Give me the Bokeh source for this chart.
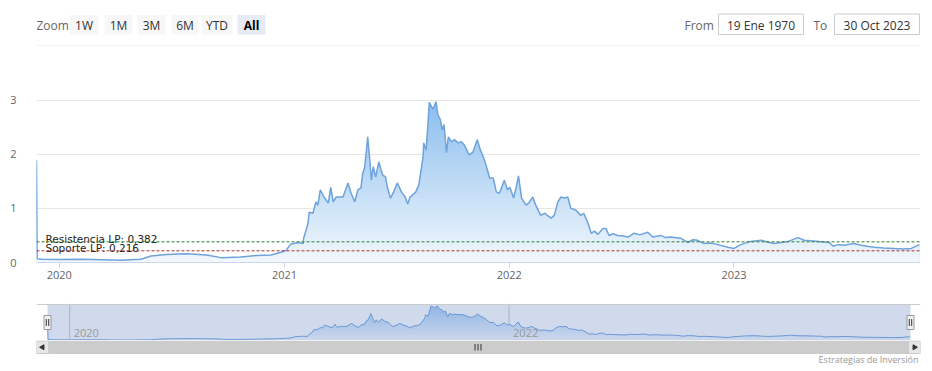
import numpy as np
import pandas as pd
from bokeh.plotting import figure
from bokeh.layouts import column
from bokeh.models import Range1d, FixedTicker, DatetimeTickFormatter, Span, BoxAnnotation
from bokeh.core.properties import value
from bokeh.embed import file_html
from bokeh.resources import INLINE

# ---------------- data ----------------
dates = [
    "2019-11-25", "2019-11-26", "2019-12-03", "2020-01-04", "2020-02-06", "2020-03-09",
    "2020-04-11", "2020-05-13", "2020-05-29", "2020-06-23", "2020-07-25", "2020-08-27",
    "2020-09-20", "2020-10-22", "2020-11-16", "2020-12-10", "2020-12-26", "2021-01-03",
    "2021-01-11", "2021-01-16", "2021-01-24", "2021-01-31", "2021-02-01", "2021-02-08",
    "2021-02-10", "2021-02-16", "2021-02-21", "2021-02-24", "2021-02-28", "2021-03-06",
    "2021-03-13", "2021-03-17", "2021-03-21", "2021-03-26", "2021-04-06", "2021-04-14",
    "2021-04-19", "2021-04-25", "2021-04-30", "2021-05-05", "2021-05-08", "2021-05-11",
    "2021-05-14", "2021-05-16", "2021-05-19", "2021-05-22", "2021-05-25", "2021-05-29",
    "2021-06-03", "2021-06-09", "2021-06-14", "2021-06-17", "2021-06-22", "2021-06-27",
    "2021-07-03", "2021-07-10", "2021-07-16", "2021-07-20", "2021-07-24", "2021-08-02",
    "2021-08-07", "2021-08-14", "2021-08-15", "2021-08-19", "2021-08-22", "2021-08-24",
    "2021-08-30", "2021-09-04", "2021-09-07", "2021-09-11", "2021-09-14", "2021-09-17",
    "2021-09-21", "2021-09-24", "2021-09-29", "2021-10-04", "2021-10-10", "2021-10-15",
    "2021-10-20", "2021-10-28", "2021-11-03", "2021-11-10", "2021-11-15", "2021-11-20",
    "2021-11-25", "2021-11-30", "2021-12-06", "2021-12-11", "2021-12-16", "2021-12-24",
    "2021-12-29", "2022-01-02", "2022-01-08", "2022-01-13", "2022-01-16", "2022-01-21",
    "2022-01-28", "2022-02-02", "2022-02-08", "2022-02-13", "2022-02-21", "2022-02-28",
    "2022-03-05", "2022-03-10", "2022-03-15", "2022-03-21", "2022-03-26", "2022-04-01",
    "2022-04-06", "2022-04-11", "2022-04-19", "2022-04-27", "2022-05-02", "2022-05-09",
    "2022-05-14", "2022-05-19", "2022-05-25", "2022-06-02", "2022-06-07", "2022-06-12",
    "2022-06-19", "2022-06-26", "2022-07-05", "2022-07-13", "2022-07-22", "2022-08-01",
    "2022-08-14", "2022-08-22", "2022-09-04", "2022-09-12", "2022-09-20", "2022-10-06",
    "2022-10-18", "2022-10-26", "2022-11-03", "2022-11-13", "2022-11-25", "2022-12-06",
    "2022-12-22", "2023-01-01", "2023-01-12", "2023-01-28", "2023-02-14", "2023-02-24",
    "2023-03-07", "2023-03-18", "2023-03-30", "2023-04-15", "2023-04-25", "2023-05-06",
    "2023-05-18", "2023-06-05", "2023-06-11", "2023-06-20", "2023-06-29", "2023-07-14",
    "2023-07-27", "2023-08-05", "2023-08-17", "2023-09-01", "2023-09-18", "2023-10-03",
    "2023-10-16", "2023-10-29",
]
prices = [
    1.90, 0.07, 0.06, 0.055, 0.06, 0.05,
    0.04, 0.06, 0.12, 0.15, 0.16, 0.14,
    0.09, 0.10, 0.13, 0.14, 0.19, 0.22,
    0.34, 0.35, 0.37, 0.35, 0.45, 0.72,
    0.93, 0.91, 1.12, 1.06, 1.34, 1.21,
    1.10, 1.39, 1.12, 1.21, 1.21, 1.47,
    1.28, 1.12, 1.34, 1.38, 1.65, 1.75,
    2.08, 2.32, 1.95, 1.52, 1.77, 1.58,
    1.86, 1.62, 1.58, 1.39, 1.19, 1.30,
    1.47, 1.30, 1.21, 1.08, 1.21, 1.30,
    1.43, 1.95, 2.21, 2.08, 2.58, 2.96,
    2.83, 2.97, 2.73, 2.64, 2.45, 2.55,
    2.03, 2.32, 2.23, 2.27, 2.21, 2.23,
    2.17, 1.99, 2.04, 2.27, 2.08, 1.95,
    1.77, 1.56, 1.56, 1.30, 1.28, 1.52,
    1.34, 1.39, 1.19, 1.43, 1.60, 1.19,
    1.06, 1.10, 1.21, 1.06, 0.87, 0.91,
    0.86, 0.82, 0.87, 1.12, 1.21, 1.19,
    1.21, 1.00, 0.97, 0.87, 0.91, 0.72,
    0.54, 0.58, 0.52, 0.63, 0.63, 0.50,
    0.53, 0.50, 0.49, 0.47, 0.54, 0.51,
    0.56, 0.47, 0.50, 0.46, 0.47, 0.45,
    0.37, 0.42, 0.41, 0.35, 0.36, 0.33,
    0.28, 0.26, 0.33, 0.39, 0.41, 0.38,
    0.35, 0.37, 0.39, 0.46, 0.41, 0.40,
    0.39, 0.37, 0.30, 0.33, 0.32, 0.35,
    0.32, 0.30, 0.28, 0.27, 0.26, 0.25,
    0.26, 0.33,
]
range_end = "2023-10-31"
resistance = 0.382
support = 0.216
res_label = "Resistencia LP: 0,382"
sup_label = "Soporte LP: 0,216"
year_ticks = ["2020-01-01", "2021-01-01", "2022-01-01", "2023-01-01"]
nav_years = ["2020-01-01", "2022-01-01"]
nav_year_labels = ["2020", "2022"]
y_ticks = [0, 1, 2, 3, 4]
zoom_label = "Zoom"
zoom_buttons = ["1W", "1M", "3M", "6M", "YTD", "All"]
from_label, to_label = "From", "To"
range_from = "19 Ene 1970"
range_to = "30 Oct 2023"
credits = "Estrategias de Inversión"

# ---------------- helpers ----------------
FONT = "Open Sans"
W = 932
LEFT, RIGHT = 36, 920          # frame edges in page pixels
BL, BR = LEFT, W - RIGHT        # borders
BASE = "#7cb5ec"
LINE = "#6fa3dc"


def ms(s):
    return pd.Timestamp(s).value / 1e6


def blend(hexc, a):
    r, g, b = int(hexc[1:3], 16), int(hexc[3:5], 16), int(hexc[5:7], 16)
    return "#%02x%02x%02x" % (round(255 - (255 - r) * a), round(255 - (255 - g) * a), round(255 - (255 - b) * a))


xd = pd.to_datetime(dates)
v = np.array(prices, dtype=float)
vmax = v.max()
x0 = ms(dates[0])
x1 = ms(range_end)


def pixel_fig(height):
    # frame covers page x LEFT..RIGHT; coordinates are page pixels
    f = figure(width=W, height=height, x_range=Range1d(LEFT, RIGHT), y_range=Range1d(height, 0),
               toolbar_location=None, output_backend="svg", tools="",
               min_border_left=BL, min_border_right=BR, min_border_top=0, min_border_bottom=0,
               x_axis_location=None, y_axis_location=None)
    f.grid.visible = False
    f.outline_line_color = None
    f.background_fill_color = "white"
    f.border_fill_color = "white"
    return f


# ---------------- header (range selector) ----------------
HY = 24.5
h = pixel_fig(44)
btn_x = [69, 104, 137, 171, 201, 237]
btn_w = [29, 28, 28, 27, 31, 28]
h.text(x=[36], y=[HY], text=[zoom_label], text_font=value(FONT), text_font_size="12px",
       text_color="#666666", text_baseline="middle", text_align="left")
for i, lab in enumerate(zoom_buttons):
    sel = lab == "All"
    h.rect(x=[btn_x[i] + btn_w[i] / 2], y=[24.3], width=btn_w[i], height=19.5,
           fill_color="#e6ebf5" if sel else "#f7f7f7", line_color=None)
    h.text(x=[btn_x[i] + btn_w[i] / 2], y=[HY], text=[lab], text_font=value(FONT),
           text_font_size="12px", text_color="#000000" if sel else "#333333",
           text_font_style="bold" if sel else "normal",
           text_baseline="middle", text_align="center")
h.text(x=[684], y=[HY], text=[from_label], text_font=value(FONT), text_font_size="12px",
       text_color="#666666", text_baseline="middle", text_align="left")
h.text(x=[813], y=[HY], text=[to_label], text_font=value(FONT), text_font_size="12px",
       text_color="#666666", text_baseline="middle", text_align="left")
for cx, lab in [(760.5, range_from), (876.5, range_to)]:
    h.rect(x=[cx], y=[23.8], width=85, height=20.5, fill_color="white", line_color="#cccccc")
    h.text(x=[cx], y=[HY], text=[lab], text_font=value(FONT), text_font_size="12px",
           text_color="#333333", text_baseline="middle", text_align="center")

# ---------------- main chart ----------------
p = figure(width=W, height=246, x_axis_type="datetime",
           x_range=Range1d(x0, x1), y_range=Range1d(0, 4.009),
           toolbar_location=None, output_backend="svg", tools="",
           min_border_left=BL, min_border_right=BR, min_border_top=1, min_border_bottom=28)
p.outline_line_color = None
p.background_fill_color = "white"
p.border_fill_color = "white"

levels = np.linspace(0, vmax, 41)
for i in reversed(range(40)):
    mid = (levels[i] + levels[i + 1]) / 2
    p.varea(x=xd, y1=np.zeros_like(v), y2=np.minimum(v, levels[i + 1]),
            fill_color=blend(BASE, 0.10 + 0.78 * mid / vmax))
p.line(x=xd, y=v, line_color=LINE, line_width=1.5)

p.add_layout(Span(location=resistance, dimension="width", line_color="#2f7f2f",
                  line_dash="3 2", line_width=1))
p.add_layout(Span(location=support, dimension="width", line_color="#b03030",
                  line_dash="3 2", line_width=1))
p.text(x=[xd[0], xd[0]], y=[resistance, support], text=[res_label, sup_label],
       x_offset=9, y_offset=-3, text_font=value("DejaVu Sans"), text_font_size="10.5px",
       text_color="#222222", text_baseline="alphabetic", text_align="left")

p.ygrid.ticker = FixedTicker(ticks=y_ticks)
p.ygrid.grid_line_color = "#e6e6e6"
p.xgrid.visible = False
p.yaxis.ticker = FixedTicker(ticks=y_ticks)
p.yaxis.major_label_overrides = {4: ""}
p.yaxis.axis_line_color = None
p.yaxis.major_tick_line_color = None
p.yaxis.minor_tick_line_color = None
p.yaxis.major_label_standoff = 14
p.yaxis.major_label_text_font = FONT
p.yaxis.major_label_text_font_size = "11px"
p.yaxis.major_label_text_color = "#666666"

p.xaxis.ticker = FixedTicker(ticks=[ms(t) for t in year_ticks])
p.xaxis.formatter = DatetimeTickFormatter(years="%Y", months="%Y", days="%Y", hours="%Y",
                                          minutes="%Y", seconds="%Y", milliseconds="%Y")
p.xaxis.axis_line_color = "#ccd6eb"
p.xaxis.major_tick_line_color = "#ccd6eb"
p.xaxis.major_tick_out = 5
p.xaxis.major_tick_in = 0
p.xaxis.minor_tick_line_color = None
p.xaxis.major_label_standoff = 3
p.xaxis.major_label_text_font = FONT
p.xaxis.major_label_text_font_size = "11px"
p.xaxis.major_label_text_color = "#666666"

# ---------------- navigator ----------------
per_px = (x1 - x0) / 863.0
nav_top = 3.1
n = figure(width=W, height=50, x_axis_type="datetime",
           x_range=Range1d(x0 - 11 * per_px, x1 + 10 * per_px),
           y_range=Range1d(0, nav_top * 37 / 36),
           toolbar_location=None, output_backend="svg", tools="",
           min_border_left=BL, min_border_right=BR, min_border_top=13, min_border_bottom=0,
           x_axis_location=None, y_axis_location=None)
n.grid.visible = False
n.outline_line_color = None
n.background_fill_color = "white"
n.border_fill_color = "white"
for t in nav_years:
    n.add_layout(Span(location=ms(t), dimension="height", line_color="#c8c8c8",
                      line_width=1, level="underlay"))
nlev = np.linspace(0, vmax, 21)
for i in reversed(range(20)):
    mid = (nlev[i] + nlev[i + 1]) / 2
    n.varea(x=xd, y1=np.zeros_like(v), y2=np.minimum(v, nlev[i + 1]),
            fill_color=blend(BASE, 0.05 + 0.65 * mid / vmax))
n.line(x=xd, y=v, line_color=LINE, line_width=1)
n.add_layout(BoxAnnotation(left=x0, right=x1, top=nav_top, fill_color="#6685c2",
                           fill_alpha=0.3, line_color=None))
n.add_layout(Span(location=nav_top, dimension="width", line_color="#cccccc", line_width=1))
n.text(x=pd.to_datetime(nav_years), y=[0, 0], text=nav_year_labels, x_offset=4, y_offset=-8,
       text_font=value(FONT), text_font_size="11px", text_color="#999999",
       text_baseline="middle", text_align="left", level="overlay")
n.rect(x=[x0, x1], y=[nav_top / 2] * 2, width=7, height=14, width_units="screen",
       height_units="screen", fill_color="#f2f2f2", line_color="#999999", level="overlay")
for hx in (x0, x1):
    for dx in (-1.2, 1.2):
        n.segment(x0=[hx + dx * per_px], x1=[hx + dx * per_px], y0=[nav_top / 2 - 0.3],
                  y1=[nav_top / 2 + 0.3], line_color="#333333", line_width=1, level="overlay")

# ---------------- scrollbar + credits ----------------
s = pixel_fig(26)
s.rect(x=[478], y=[6.75], width=884, height=12.5, fill_color="#f2f2f2", line_color="#f2f2f2")
s.rect(x=[478], y=[6.75], width=860, height=12.5, fill_color="#cccccc", line_color="#cccccc")
s.rect(x=[42, 914], y=[6.75, 6.75], width=12, height=12.5, fill_color="#e6e6e6",
       line_color="#cccccc")
s.scatter(x=[42, 914], y=[6.75, 6.75], marker="triangle", size=5,
          angle=[np.pi / 2, -np.pi / 2], fill_color="#333333", line_color="#333333")
s.segment(x0=[474.5, 477.5, 480.5], x1=[474.5, 477.5, 480.5], y0=[3.5] * 3, y1=[10] * 3,
          line_color="#333333", line_width=1)
s.text(x=[918], y=[19], text=[credits], text_font=value(FONT), text_font_size="9px",
       text_color="#999999", text_baseline="middle", text_align="right")

layout = column(h, p, n, s, spacing=0)
open("out.html", "w").write(file_html(layout, INLINE))
